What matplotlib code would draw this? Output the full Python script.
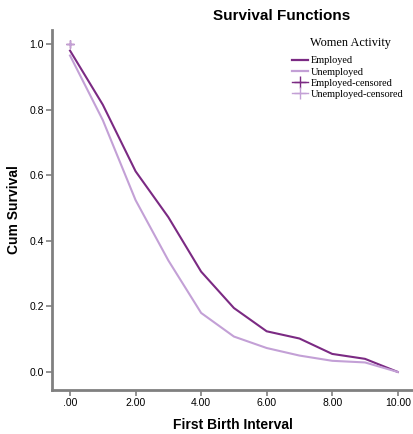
import matplotlib.pyplot as plt
from matplotlib.lines import Line2D

interval = [0, 1, 2, 3, 4, 5, 6, 7, 8, 9, 10]
employed = [0.98, 0.815, 0.612, 0.472, 0.306, 0.195, 0.124, 0.102, 0.055, 0.04, 0.0]
unemployed = [0.965, 0.768, 0.524, 0.34, 0.18, 0.108, 0.073, 0.05, 0.034, 0.029, 0.0]
censored_x = [0]
censored_y = [1.0]
xticks = [0, 2, 4, 6, 8, 10]
xtick_labels = [".00", "2.00", "4.00", "6.00", "8.00", "10.00"]

dark = "#7b2a83"
light = "#c3a0d6"
gray = "#808080"

plt.rcParams['font.family'] = ['Liberation Sans', 'DejaVu Sans']

fig = plt.figure(figsize=(4.14, 4.34), dpi=100)
ax = fig.add_axes([0.1256, 0.1014, 0.874, 0.8296])

ax.plot(interval, employed, color=dark, lw=1.5)
ax.plot(interval, unemployed, color=light, lw=1.5)
ax.plot(censored_x, censored_y, ls="none", marker="+", ms=6, mew=1, color=dark)
ax.plot(censored_x, censored_y, ls="none", marker="+", ms=6, mew=1, color=light)

ax.set_xlim(-0.55, 10.49)
ax.set_ylim(-0.055, 1.043)
ax.set_xticks(xticks)
ax.set_xticklabels(xtick_labels)
ax.set_yticks([0.0, 0.2, 0.4, 0.6, 0.8, 1.0])
ax.set_yticklabels(["0.0", "0.2", "0.4", "0.6", "0.8", "1.0"])
ax.tick_params(labelsize=7.5, length=4, width=1.2, color=gray, direction="out", pad=2)

for s in ["top", "right"]:
    ax.spines[s].set_visible(False)
for s in ["left", "bottom"]:
    ax.spines[s].set_color(gray)
    ax.spines[s].set_linewidth(2)

ax.set_xlabel("First Birth Interval", fontsize=10, fontweight="bold", labelpad=7)
ax.set_ylabel("Cum Survival", fontsize=10, fontweight="bold", labelpad=6)
fig.text(0.68, 0.962, "Survival Functions", fontsize=11, fontweight="bold", ha="center", va="center")

# legend title drawn separately so the gap above the entries matches
fig.text(350 / 414, 1 - 43 / 434, "Women Activity", family="Liberation Serif", fontsize=8.8,
         ha="center", va="center")
handles = [
    Line2D([], [], color=dark, lw=1.6),
    Line2D([], [], color=light, lw=1.6),
    Line2D([], [], color=dark, lw=1, marker="+", ms=8, mew=1),
    Line2D([], [], color=light, lw=1, marker="+", ms=8, mew=1),
]
labels = ["Employed", "Unemployed", "Employed-censored", "Unemployed-censored"]
leg = ax.legend(handles, labels, loc="upper left", bbox_to_anchor=(288 / 414, 1 - 52 / 434),
                bbox_transform=fig.transFigure, frameon=False,
                prop={"family": "Liberation Serif", "size": 7.4},
                handlelength=1.5, handletextpad=0.3, labelspacing=0.2, borderaxespad=0.0)

fig.savefig("out.png", dpi=100)
